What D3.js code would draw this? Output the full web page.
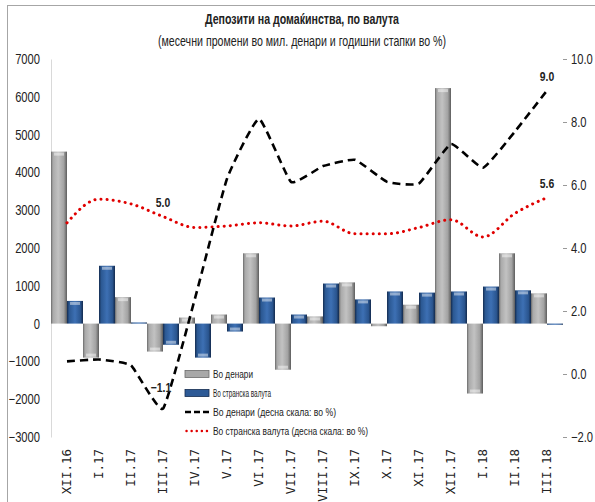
<!DOCTYPE html>
<html>
<head>
<meta charset="utf-8">
<script src="https://cdn.jsdelivr.net/npm/d3@7"></script>
<style>
  body { margin: 0; background: #fff; }
  svg { display: block; }
  text { font-family: 'Liberation Sans', Arial, sans-serif; fill: #222; }
  .xlab { font-family: 'DejaVu Sans Mono', monospace; }
</style>
</head>
<body>
<div id="chart"></div>
<script>
// categories (months)
const months = ['XII.16', 'I.17', 'II.17', 'III.17', 'IV.17', 'V.17', 'VI.17', 'VII.17',
  'VIII.17', 'IX.17', 'X.17', 'XI.17', 'XII.17', 'I.18', 'II.18', 'III.18']

// monthly changes, mil. denars (left scale)
const denarBars = [4550, -900, 700, -740, 160, 240, 1860, -1220, 190, 1090, -70, 500, 6230, -1850, 1860, 800]
const foreignBars = [600, 1530, 30, -560, -900, -210, 690, 240, 1060, 640, 850, 820, 850, 980, 880, -30]

// annual growth rates, % (right scale)
const denarRate = [0.4, 0.46, 0.27, -1.1, 2.4, 6.2, 8.1, 6.1, 6.6, 6.8, 6.1, 6.05, 7.3, 6.55, 7.7, 9.0]
const foreignRate = [4.8, 5.55, 5.4, 5.0, 4.65, 4.7, 4.8, 4.7, 4.85, 4.45, 4.45, 4.65, 4.9, 4.35, 5.1, 5.6]

const leftTicks = [-3000, -2000, -1000, 0, 1000, 2000, 3000, 4000, 5000, 6000, 7000]
const rightTicks = [-2, 0, 2, 4, 6, 8, 10]

// labelled points: [series, index]
const labelled = [['den', 3], ['den', 15], ['for', 3], ['for', 15]]

const W = 595
const H = 502
const plot = { left: 51, right: 563, top: 59, bottom: 437 }
const SX = 0.8 // the original uses a narrow font, squeeze text horizontally

const svg = d3.select('#chart')
  .append('svg')
  .attr('width', W)
  .attr('height', H)

// outer frame (cut off at right like the original)
svg.append('rect')
  .attr('x', 7.5).attr('y', 5.5)
  .attr('width', 640).attr('height', 560)
  .attr('fill', 'none')
  .attr('stroke', '#a6a6a6')

// gradients for the bars
const defs = svg.append('defs')
function grad (id, stops) {
  const g = defs.append('linearGradient').attr('id', id)
    .attr('x1', '0%').attr('x2', '100%').attr('y1', '0%').attr('y2', '0%')
  stops.forEach(s => g.append('stop').attr('offset', s[0]).attr('stop-color', s[1]))
}
grad('gGray', [['0%', '#6a6a6a'], ['12%', '#a9a9a9'], ['45%', '#c2c2c2'], ['80%', '#a2a2a2'], ['100%', '#5c5c5c']])
grad('gBlue', [['0%', '#142c50'], ['14%', '#2b5892'], ['50%', '#3d70b4'], ['84%', '#2a558f'], ['100%', '#132a4d']])

const x = d3.scaleBand()
  .domain(months)
  .range([plot.left, plot.right])
  .padding(0)

const yL = d3.scaleLinear()
  .domain([-3000, 7000])
  .range([plot.bottom, plot.top])

const yR = d3.scaleLinear()
  .domain([-2, 10])
  .range([plot.bottom, plot.top])

// left axis
const axL = svg.append('g')
  .attr('transform', `translate(${plot.left}, 0)`)
  .call(d3.axisLeft(yL).tickValues(leftTicks).tickSize(0).tickPadding(11).tickFormat(d3.format('d')))
axL.select('.domain').attr('stroke', '#d9d9d9')
axL.selectAll('text')
  .style('font-size', '14px')
  .attr('fill', '#222')
  .attr('x', -11 / SX)
  .attr('transform', `scale(${SX}, 1)`)

// right axis
const axR = svg.append('g')
  .attr('transform', `translate(${plot.right}, 0)`)
  .call(d3.axisRight(yR).tickValues(rightTicks).tickSize(4).tickPadding(4).tickFormat(d3.format('.1f')))
axR.select('.domain').attr('stroke', 'none')
axR.selectAll('.tick line').attr('stroke', '#999')
axR.selectAll('text')
  .style('font-size', '14px')
  .attr('fill', '#222')
  .attr('x', 8 / SX)
  .attr('transform', `scale(${SX}, 1)`)

// bars
const bw = x.bandwidth() / 2
function drawBars (vals, gid, off) {
  const g = svg.append('g')
  g.selectAll('rect.bar')
    .data(vals)
    .join('rect')
    .attr('class', 'bar')
    .attr('x', (d, i) => x(months[i]) + off)
    .attr('y', d => yL(Math.max(0, d)))
    .attr('width', bw)
    .attr('height', d => Math.abs(yL(d) - yL(0)))
    .attr('fill', `url(#${gid})`)
  // bevel highlight at the end of the bar
  g.selectAll('rect.cap')
    .data(vals)
    .join('rect')
    .attr('class', 'cap')
    .attr('x', (d, i) => x(months[i]) + off + 3)
    .attr('y', d => d >= 0 ? yL(d) + 1 : yL(d) - 4)
    .attr('width', bw - 6)
    .attr('height', d => Math.abs(yL(d) - yL(0)) > 6 ? 3 : 0)
    .attr('fill', '#fff')
    .attr('opacity', 0.45)
}
drawBars(denarBars, 'gGray', 0)
drawBars(foreignBars, 'gBlue', bw)

// lines
const cx = i => x(months[i]) + x.bandwidth() / 2
const redLine = d3.line()
  .x((d, i) => cx(i))
  .y(d => yR(d))
  .curve(d3.curveMonotoneX)
const blackLine = d3.line()
  .x((d, i) => cx(i))
  .y(d => yR(d))
  .curve(d3.curveCardinal.tension(0.6))

svg.append('path')
  .attr('d', redLine(foreignRate))
  .attr('fill', 'none')
  .attr('stroke', '#e00000')
  .attr('stroke-width', 3)
  .attr('stroke-linecap', 'round')
  .attr('stroke-dasharray', '0.1 6')

svg.append('path')
  .attr('d', blackLine(denarRate))
  .attr('fill', 'none')
  .attr('stroke', '#000')
  .attr('stroke-width', 2.6)
  .attr('stroke-dasharray', '8 5')

// data labels
const labVal = d => d[0] === 'den' ? denarRate[d[1]] : foreignRate[d[1]]
svg.append('g')
  .selectAll('text')
  .data(labelled)
  .join('text')
  .attr('transform', d => {
    const v = labVal(d)
    const ly = v < 0 ? yR(v) - 17 : yR(v) - 10
    return `translate(${cx(d[1]) - (v < 0 ? 2 : 0)}, ${ly}) scale(${SX}, 1)`
  })
  .attr('text-anchor', 'middle')
  .style('font-size', '13px')
  .style('font-weight', 'bold')
  .text(d => d3.format('.1f')(labVal(d)))

// x labels
svg.append('g')
  .selectAll('text')
  .data(months)
  .join('text')
  .attr('class', 'xlab')
  .attr('transform', d => `translate(${x(d) + x.bandwidth() / 2}, 449) rotate(-90)`)
  .attr('text-anchor', 'end')
  .attr('dy', '0.35em')
  .style('font-size', '12.5px')
  .text(d => d)

// title
svg.append('text')
  .attr('x', 302).attr('y', 24)
  .attr('text-anchor', 'middle')
  .attr('textLength', 194)
  .attr('lengthAdjust', 'spacingAndGlyphs')
  .style('font-size', '15px')
  .style('font-weight', 'bold')
  .text('Депозити на домаќинства, по валута')
svg.append('text')
  .attr('x', 302).attr('y', 46)
  .attr('text-anchor', 'middle')
  .attr('textLength', 288)
  .attr('lengthAdjust', 'spacingAndGlyphs')
  .style('font-size', '14px')
  .text('(месечни промени во мил. денари и годишни стапки во %)')

// legend
const legendItems = [
  { name: 'Во денари', type: 'gGray', w: 40 },
  { name: 'Во странска валута', type: 'gBlue', w: 58 },
  { name: 'Во денари (десна скала: во %)', type: 'dash', w: 123 },
  { name: 'Во странска валута (десна скала: во %)', type: 'dot', w: 155 }
]
const lg = svg.append('g').attr('transform', 'translate(185, 374)')
legendItems.forEach((d, i) => {
  const row = lg.append('g').attr('transform', `translate(0, ${i * 19})`)
  if (d.type === 'dash') {
    row.append('line').attr('x1', 0).attr('x2', 24).attr('y1', 0).attr('y2', 0)
      .attr('stroke', '#000').attr('stroke-width', 2.6).attr('stroke-dasharray', '6 3')
  } else if (d.type === 'dot') {
    row.append('line').attr('x1', 1.5).attr('x2', 24).attr('y1', 0).attr('y2', 0)
      .attr('stroke', '#e00000').attr('stroke-width', 2.4).attr('stroke-linecap', 'round')
      .attr('stroke-dasharray', '0.1 5')
  } else {
    row.append('rect').attr('x', 0).attr('y', -3.5).attr('width', 24).attr('height', 7)
      .attr('fill', d.type === 'gGray' ? '#a8a8a8' : '#2d5a96')
      .attr('stroke', d.type === 'gGray' ? '#6a6a6a' : '#142c50').attr('stroke-width', 0.8)
  }
  row.append('text')
    .attr('x', 28).attr('y', 0).attr('dy', '0.35em')
    .attr('textLength', d.w)
    .attr('lengthAdjust', 'spacingAndGlyphs')
    .style('font-size', '11.5px')
    .text(d.name)
})
</script>
</body>
</html>
